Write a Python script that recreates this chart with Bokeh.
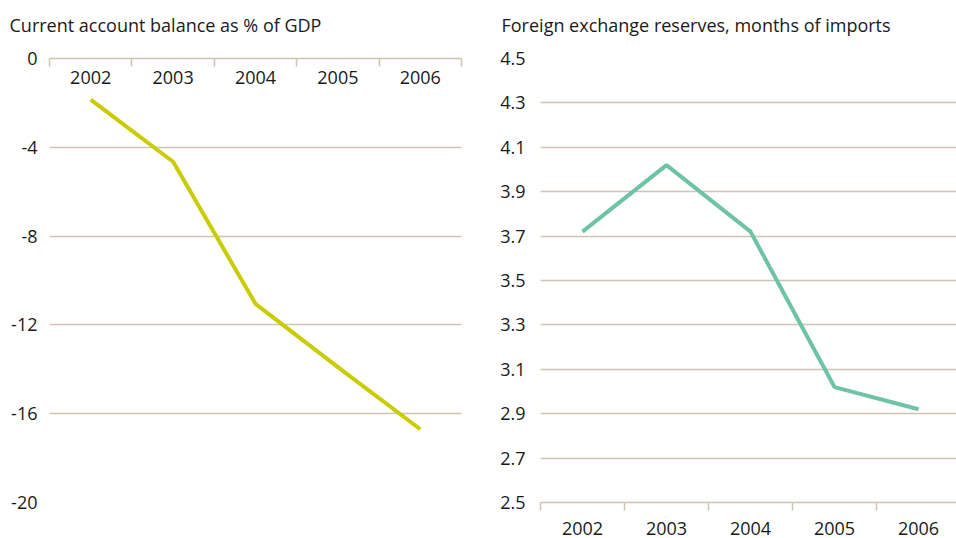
from bokeh.plotting import figure
from bokeh.layouts import row
from bokeh.models import Range1d, FixedTicker, LinearAxis, Title
from bokeh.embed import file_html
from bokeh.resources import INLINE

# ---- data ----
years = ["2002", "2003", "2004", "2005", "2006"]
current_account = [-1.85, -4.65, -11.05, -13.9, -16.7]
fx_reserves = [3.72, 4.02, 3.72, 3.02, 2.92]
ca_ticks = [0, -4, -8, -12, -16, -20]
fx_ticks = [2.5, 2.7, 2.9, 3.1, 3.3, 3.5, 3.7, 3.9, 4.1, 4.3, 4.5]
ca_title = "Current account balance as % of GDP"
fx_title = "Foreign exchange reserves, months of imports"

FONT = "Open Sans"
GRID = "#cdc4b1"
TEXT = "#1a1a1a"
YELLOW = "#c9cc00"
TEAL = "#6dc2a8"
FS = "18px"

x_pos = [i + 0.5 for i in range(len(years))]
bounds = list(range(len(years) + 1))
x_overrides = {x: y for x, y in zip(x_pos, years)}


def base_fig(fw, left, right, y0, y1, title, title_offset, cat_w):
    p = figure(frame_width=fw, frame_height=444,
               min_border_left=left, min_border_right=right,
               min_border_top=58, min_border_bottom=36,
               x_range=Range1d(0, fw / cat_w),
               y_range=Range1d(y0, y1),
               x_axis_location=None, y_axis_location=None,
               output_backend="svg", toolbar_location=None,
               background_fill_color="white", border_fill_color="white")
    p.outline_line_color = None
    p.xgrid.grid_line_color = None
    p.title.text = title
    p.title.text_font = FONT
    p.title.text_font_size = FS
    p.title.text_font_style = "normal"
    p.title.text_color = TEXT
    p.title.offset = title_offset
    p.title.standoff = 10
    return p


def add_spacer(p):
    # blank panel that lifts the heading away from the plot frame
    p.add_layout(Title(text=" ", text_font_size="10px", standoff=4), "above")


def style_x(ax, standoff):
    ax.ticker = FixedTicker(ticks=x_pos, minor_ticks=bounds)
    ax.major_label_overrides = x_overrides
    ax.major_tick_in = 0
    ax.major_tick_out = 0
    ax.major_tick_line_color = None
    ax.minor_tick_line_color = GRID
    ax.minor_tick_line_width = 1.5
    ax.axis_line_color = GRID
    ax.axis_line_width = 1.5
    ax.major_label_text_font = FONT
    ax.major_label_text_font_size = FS
    ax.major_label_text_color = TEXT
    ax.major_label_standoff = standoff


def style_y(ax, ticks, labels, standoff):
    ax.ticker = FixedTicker(ticks=ticks)
    ax.major_label_overrides = {t: s for t, s in zip(ticks, labels)}
    ax.axis_line_color = None
    ax.major_tick_line_color = None
    ax.minor_tick_line_color = None
    ax.major_tick_in = 0
    ax.major_tick_out = 0
    ax.major_label_text_font = FONT
    ax.major_label_text_font_size = FS
    ax.major_label_text_color = TEXT
    ax.major_label_standoff = standoff


# ---- left chart ----
p1 = base_fig(412, 49, 19, -20, 0, ca_title, -40, 412 / 5.0)
xa1 = LinearAxis()
style_x(xa1, -25)
xa1.minor_tick_in = 8
xa1.minor_tick_out = 0
p1.add_layout(xa1, "above")
add_spacer(p1)
ya1 = LinearAxis()
style_y(ya1, ca_ticks, [str(t) for t in ca_ticks], 12)
p1.add_layout(ya1, "left")
p1.ygrid.ticker = FixedTicker(ticks=[t for t in ca_ticks if t != 0])
p1.ygrid.grid_line_color = GRID
p1.ygrid.grid_line_width = 1.5
p1.line(x_pos, current_account, line_color=YELLOW, line_width=4)

# ---- right chart ----
p2 = base_fig(416, 60, 0, 2.5, 4.5, fx_title, -39, 84.0)
add_spacer(p2)
xa2 = LinearAxis()
style_x(xa2, 11)
xa2.minor_tick_in = 0
xa2.minor_tick_out = 8
p2.add_layout(xa2, "below")
ya2 = LinearAxis()
style_y(ya2, fx_ticks, ["%.1f" % t for t in fx_ticks], 15)
p2.add_layout(ya2, "left")
p2.ygrid.ticker = FixedTicker(ticks=[t for t in fx_ticks if t != 2.5])
p2.ygrid.grid_line_color = GRID
p2.ygrid.grid_line_width = 1.5
p2.line(x_pos, fx_reserves, line_color=TEAL, line_width=4)

layout = row(p1, p2, spacing=0)
open("out.html", "w").write(file_html(layout, INLINE))
